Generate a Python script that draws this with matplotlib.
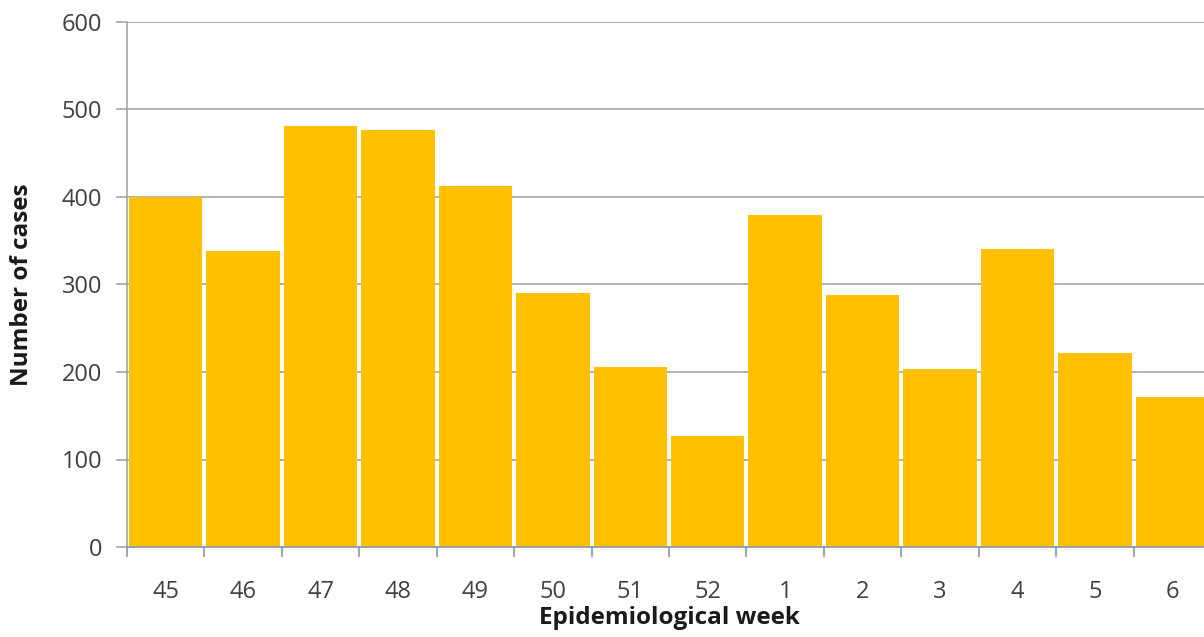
import numpy as np
import matplotlib.pyplot as plt

weeks = ['45', '46', '47', '48', '49', '50', '51', '52', '1', '2', '3', '4', '5', '6']
cases = [400, 338, 481, 476, 412, 290, 206, 127, 379, 288, 203, 340, 222, 171]

plt.rcParams['font.family'] = ['Open Sans', 'DejaVu Sans']

fig = plt.figure(figsize=(12.04, 6.37), dpi=100)
# axes runs past the right edge of the picture, as in the reference
ax = fig.add_axes([127 / 1204, 90 / 637, 1084 / 1204, 525 / 637])

x = np.arange(len(weeks))
ax.bar(x, cases, width=0.95, color='#FFC000', zorder=3)

ax.set_xlim(-0.5, len(weeks) - 0.5)
ax.set_ylim(0, 600)
ax.set_yticks(np.arange(0, 601, 100))
ax.yaxis.grid(True, color='#A6A6A6', lw=1.2, zorder=0)

ax.set_xticks(x)
ax.set_xticklabels(weeks)
ax.set_xticks(np.arange(-0.5, len(weeks), 1), minor=True)
ax.tick_params(axis='x', which='major', length=0, labelsize=17, colors='#404040', pad=24)
ax.tick_params(axis='x', which='minor', length=7, color='#8C96A8', width=1.2)
ax.tick_params(axis='y', length=8, color='#A6A6A6', width=1.2, labelsize=17, labelcolor='#404040', pad=10)

for s in ['top', 'right']:
    ax.spines[s].set_visible(False)
ax.spines['left'].set_color('#A6A6A6')
ax.spines['bottom'].set_color('#8C96A8')
ax.spines['left'].set_linewidth(1.2)
ax.spines['bottom'].set_linewidth(1.2)
ax.spines['bottom'].set_zorder(4)

ax.set_xlabel('Epidemiological week', fontsize=17.5, fontweight='bold', labelpad=1, color='#1a1a1a')
ax.set_ylabel('Number of cases', fontsize=17.5, fontweight='bold', labelpad=20, color='#1a1a1a')

fig.savefig('out.png', dpi=100)
